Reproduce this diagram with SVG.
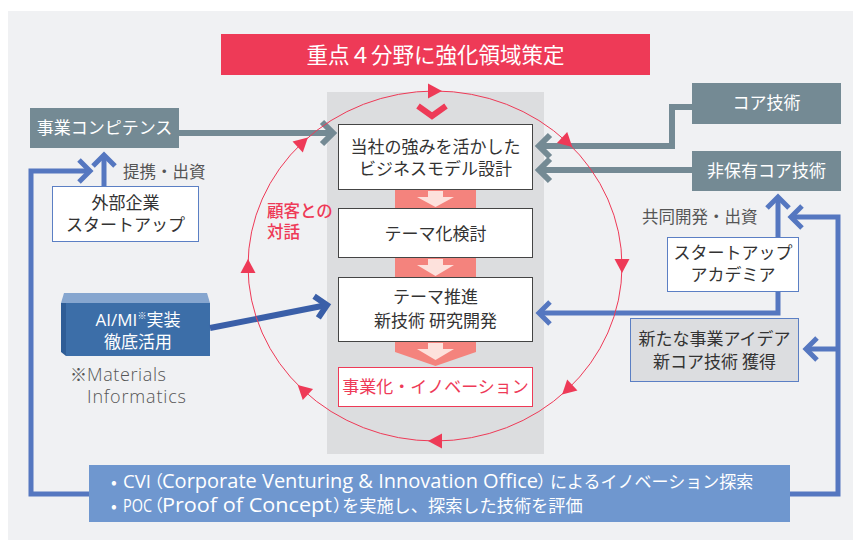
<svg xmlns="http://www.w3.org/2000/svg" width="853" height="540" viewBox="0 0 853 540">
<style>
text{font-family:"Noto Sans CJK JP","Noto Sans",sans-serif;}
.lat{font-family:"Open Sans","Noto Sans CJK JP",sans-serif;}
.dk{fill:#333;font-size:17px;text-anchor:middle;}
.wt{fill:#fff;font-size:17px;text-anchor:middle;}
.gy{fill:#555;font-size:16.5px;}
.slate{fill:#748a94;}
.wbox{fill:#fff;stroke:#444;stroke-width:1;}
.bbox{fill:#fff;stroke:#5b7fc4;stroke-width:1;}
.lg{fill:none;stroke:#748a94;stroke-width:6;}
.lb{fill:none;stroke:#5577c0;stroke-width:5;}
.ld{fill:none;stroke:#3a5fa8;stroke-width:6;}
.salmon{fill:#f4837d;}
.pale{fill:#fde1dc;}
.tri{fill:#ee3a57;}
.cv{fill:#fff;font-size:17px;}
.cvl{font-family:"Open Sans","Noto Sans CJK JP",sans-serif;font-size:19.5px;}
.cvs{font-family:"Open Sans","Noto Sans CJK JP",sans-serif;font-size:18px;}
</style>
<defs>
<marker id="mg" viewBox="-16 -16 24 32" markerWidth="24" markerHeight="32" refX="0" refY="0" orient="auto" markerUnits="userSpaceOnUse" overflow="visible"><path d="M-11,-11 L0,0 L-11,11" fill="none" stroke="#748a94" stroke-width="6"/></marker>
<marker id="mb" viewBox="-16 -16 24 32" markerWidth="24" markerHeight="32" refX="0" refY="0" orient="auto" markerUnits="userSpaceOnUse" overflow="visible"><path d="M-11,-11 L0,0 L-11,11" fill="none" stroke="#5577c0" stroke-width="5"/></marker>
<marker id="md" viewBox="-16 -16 24 32" markerWidth="24" markerHeight="32" refX="0" refY="0" orient="auto" markerUnits="userSpaceOnUse" overflow="visible"><path d="M-11,-11 L0,0 L-11,11" fill="none" stroke="#3a5fa8" stroke-width="6"/></marker>
<path id="tri" d="M7,0 L-7,-7.5 L-7,7.5 Z"/>
</defs>
<rect x="0" y="0" width="853" height="540" fill="#fff"/>
<rect x="8" y="11" width="845" height="529" fill="#f0f1f3"/>

<g id="title">
<rect x="221" y="34" width="429" height="41" fill="#ee3a57"/>
<text x="435.5" y="62.5" fill="#fff" font-size="21.5" text-anchor="middle">重点４分野に強化領域策定</text>
</g>

<rect id="column" x="327" y="92" width="217" height="362" fill="#dcdddf"/>
<path id="chevron" d="M418,106 L432,116 L446,106" fill="none" stroke="#ee3a57" stroke-width="6"/>

<g id="flow-arrows">
<rect class="salmon" x="395" y="189" width="81" height="19"/>
<path class="pale" d="M428,191 H443 V197 H454 L435.5,207 L417,197 H428 Z"/>
<rect class="salmon" x="395" y="257" width="81" height="20"/>
<path class="pale" d="M428,259 H443 V265 H454 L435.5,276 L417,265 H428 Z"/>
<path class="salmon" d="M395,341 H476 V352 L435.5,366 L395,352 Z"/>
<path class="pale" d="M428,343 H443 V349 H454 L435.5,360 L417,349 H428 Z"/>
</g>

<g id="box-model">
<rect class="wbox" x="338.5" y="124.5" width="194" height="65"/>
<text class="dk" x="435.5" y="153">当社の強みを活かした</text>
<text class="dk" x="435.5" y="175">ビジネスモデル設計</text>
</g>
<g id="box-theme">
<rect class="wbox" x="338.5" y="208.5" width="194" height="49"/>
<text class="dk" x="435.5" y="240">テーマ化検討</text>
</g>
<g id="box-promote">
<rect class="wbox" x="338.5" y="277.5" width="194" height="64"/>
<text class="dk" x="435.5" y="303">テーマ推進</text>
<text class="dk" x="435.5" y="327">新技術 研究開発</text>
</g>
<g id="box-innovation">
<rect x="338.5" y="367.5" width="194" height="39" fill="#fff" stroke="#ee3a57" stroke-width="1"/>
<text x="435.5" y="393" fill="#ee3a57" font-size="17" text-anchor="middle">事業化・イノベーション</text>
</g>

<g id="competence">
<rect class="slate" x="30" y="108" width="149" height="40"/>
<text class="wt" x="104.5" y="134">事業コンピテンス</text>
</g>
<g id="core-tech">
<rect class="slate" x="692" y="83" width="149" height="41"/>
<text class="wt" x="766.5" y="109">コア技術</text>
</g>
<g id="noncore-tech">
<rect class="slate" x="692" y="151" width="149" height="40"/>
<text class="wt" x="766.5" y="177" font-size="17.5">非保有コア技術</text>
</g>
<g id="external">
<rect class="bbox" x="52.5" y="186.5" width="146" height="55"/>
<text class="dk" x="125.5" y="209">外部企業</text>
<text class="dk" x="125.5" y="231">スタートアップ</text>
</g>
<g id="startup-academia">
<rect class="bbox" x="667.5" y="237.5" width="131" height="54"/>
<text class="dk" x="733" y="259">スタートアップ</text>
<text class="dk" x="733" y="281">アカデミア</text>
</g>
<g id="new-idea">
<rect x="630.5" y="318.5" width="168" height="63" fill="#dcdde0" stroke="#5b7fc4" stroke-width="1"/>
<text class="dk" x="714.5" y="345">新たな事業アイデア</text>
<text class="dk" x="714.5" y="368">新コア技術 獲得</text>
</g>
<g id="aimi">
<polygon points="64,293 207,293 210,303 61,303" fill="#86a6cf"/>
<polygon points="61,303 66,303 66,356 61,352" fill="#2f5d96"/>
<rect x="66" y="303" width="144" height="53" fill="#3c6ea8"/>
<text class="wt" x="138" y="326" font-size="18"><tspan class="lat">AI/MI</tspan><tspan font-size="9" dy="-7">※</tspan><tspan dy="7">実装</tspan></text>
<text class="wt" x="138" y="348" font-size="18">徹底活用</text>
</g>
<g id="note">
<text x="70" y="381" fill="#555" font-size="17">※<tspan class="lat" x="87" font-size="18" font-weight="300" textLength="79" lengthAdjust="spacing">Materials</tspan></text>
<text class="lat" x="87" y="403" fill="#555" font-size="18" font-weight="300" textLength="99" lengthAdjust="spacing">Informatics</text>
</g>
<g id="cvi">
<rect x="89" y="465" width="701" height="57" fill="#6f97cf"/>
<text class="cv" y="488"><tspan x="111">•</tspan><tspan class="cvs" x="123" textLength="28" lengthAdjust="spacingAndGlyphs">CVI</tspan><tspan x="146">（</tspan><tspan class="cvl" x="162" textLength="376" lengthAdjust="spacingAndGlyphs">Corporate Venturing &amp; Innovation Office</tspan><tspan x="537">）</tspan><tspan x="550">によるイノベーション探索</tspan></text>
<text class="cv" y="512"><tspan x="111">•</tspan><tspan class="cvs" x="123" textLength="29" lengthAdjust="spacingAndGlyphs">POC</tspan><tspan x="146">（</tspan><tspan class="cvl" x="162" textLength="170" lengthAdjust="spacingAndGlyphs">Proof of Concept</tspan><tspan x="333">）</tspan><tspan x="342" font-size="17.2">を実施し、探索した技術を評価</tspan></text>
</g>

<g id="labels">
<text class="gy" x="123" y="178">提携・出資</text>
<text class="gy" x="642" y="223">共同開発・出資</text>
<text x="267" y="217" fill="#ee3a57" font-size="16.5" font-weight="500">顧客との</text>
<text x="267" y="238" fill="#ee3a57" font-size="16.5" font-weight="500">対話</text>
</g>

<g id="connectors">
<path class="lg" d="M179,133 H333" marker-end="url(#mg)"/>
<path class="lg" d="M692,107 H672 V146 H539" marker-end="url(#mg)"/>
<path class="lg" d="M692,170 H539" marker-end="url(#mg)"/>
<path class="lb" d="M104,186 V155" marker-end="url(#mb)"/>
<path class="lb" d="M89,494 H31 V171 H90" marker-end="url(#mb)"/>
<path class="lb" d="M790,494 H838 V217 H791" marker-end="url(#mb)"/>
<path class="lb" d="M838,349 H806" marker-end="url(#mb)"/>
<path class="lb" d="M778,237 V197" marker-end="url(#mb)"/>
<path class="lb" d="M778,292 V313 H539" marker-end="url(#mb)"/>
<path class="ld" d="M210,328 L327,305" marker-end="url(#md)"/>
</g>

<g id="cycle">
<ellipse cx="435" cy="266" rx="187" ry="175" fill="none" stroke="#ee3a57" stroke-width="1"/>
<use href="#tri" class="tri" transform="translate(435,91)"/>
<use href="#tri" class="tri" transform="translate(567.2,142.3) rotate(43.1)"/>
<use href="#tri" class="tri" transform="translate(622,266) rotate(90)"/>
<use href="#tri" class="tri" transform="translate(567.2,389.7) rotate(136.9)"/>
<use href="#tri" class="tri" transform="translate(435,441) rotate(180)"/>
<use href="#tri" class="tri" transform="translate(302.8,389.7) rotate(223.1)"/>
<use href="#tri" class="tri" transform="translate(248,266) rotate(270)"/>
<use href="#tri" class="tri" transform="translate(302.8,142.3) rotate(-43.1)"/>
</g>
</svg>
